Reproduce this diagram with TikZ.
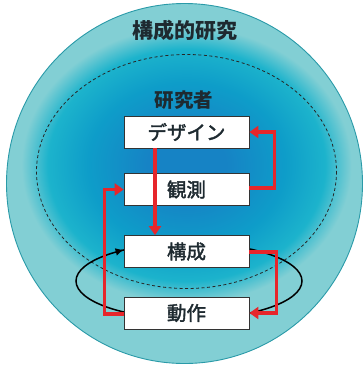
\documentclass[tikz,border=0pt]{standalone}
\usepackage{fontspec}
\setmainfont{Noto Sans CJK JP}
\newfontfamily\medfont{Noto Sans CJK JP}[FakeBold=2]
\usetikzlibrary{arrows.meta}
\definecolor{ring}{HTML}{82CFD4}
\definecolor{ringedge}{HTML}{2A9AA8}
\definecolor{cblue}{HTML}{1683C5}
\definecolor{cmid}{HTML}{0E9DC9}
\definecolor{ccyan}{HTML}{1CB3CC}
\definecolor{txt}{HTML}{1E2A30}
\definecolor{redarrow}{HTML}{E6262B}
\pgfdeclareradialshading{glow}{\pgfpoint{0bp}{0bp}}{color(0bp)=(cblue); color(6bp)=(cblue); color(15bp)=(cmid); color(21bp)=(ccyan); color(25bp)=(ring); color(50bp)=(ring)}
\begin{document}
\begin{tikzpicture}[x=1pt,y=-1pt,
  box/.style={draw=black!80, line width=0.8pt, fill=white, minimum width=125pt, minimum height=32pt, inner sep=0pt, font=\medfont\fontsize{19.5pt}{20pt}\selectfont, text=txt},
  redarr/.style={draw=redarrow, line width=3.2pt, line join=miter, -{Triangle[length=9pt,width=12pt]}},
  loop/.style={draw=black, line width=1.5pt}]
\useasboundingbox (0,0) rectangle (363,365);
% outer circle
\fill[ring] (184.5,183.5) ellipse [x radius=178, y radius=180];
% glow
\shade[shading=glow] (186.5,165) ellipse [x radius=165, y radius=138];
\draw[ringedge, line width=0.9pt] (184.5,183.5) ellipse [x radius=178, y radius=180];
% dashed ellipse
\draw[black!85, line width=0.8pt, dash pattern=on 3pt off 2.5pt] (186.5,171.5) ellipse [x radius=150, y radius=117];
% titles
\node[font=\fontsize{21pt}{22pt}\selectfont\bfseries, text=txt] (title) at (185,30) {構成的研究};
\node[font=\fontsize{19.5pt}{20pt}\selectfont\bfseries, text=txt] (res) at (184,100) {研究者};
% black loop
\draw[loop] (189,281) ellipse [x radius=113, y radius=38];
% boxes
\node[box] (dez) at (186.5,132) {デザイン};
\node[box] (kan) at (186.5,189.5) {観測};
\node[box] (kou) at (186.5,251.5) {構成};
\node[box] (dou) at (186.5,313) {動作};
% black arrow head
\coordinate (lt) at (117.5,251.5);
\draw[loop, -{Latex[length=8pt,width=8pt]}] (lt) -- (kou.west |- 0,249.8);
% red arrows
\draw[redarr] ([xshift=-31.5pt]dez.south) -- ([xshift=-31.5pt]kou.north);
\draw[redarr] ([yshift=1.5pt]kan.east) -- ++(25,0) |- (dez.east);
\draw[redarr] ([yshift=-0.5pt]kou.east) -- ++(27,0) |- (dou.east);
\draw[redarr] ([yshift=-1pt]dou.west) -- ++(-19,0) |- (kan.west);
\end{tikzpicture}
\end{document}
